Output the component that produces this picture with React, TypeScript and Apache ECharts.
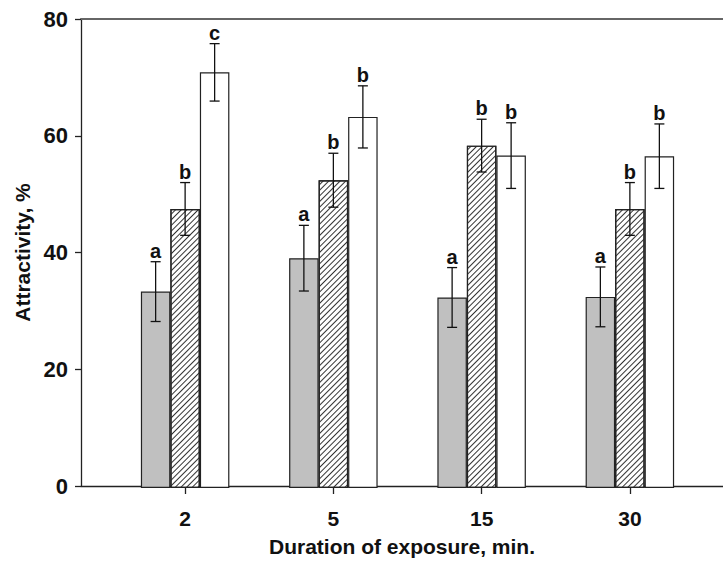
import React, { useEffect, useRef } from "react";
import * as echarts from "echarts";

const categories = ["2", "5", "15", "30"];
const grayValues = [33.5, 39.2, 32.5, 32.6];
const grayErrors = [5.1, 5.6, 5.1, 5.1];
const grayLetters = ["a", "a", "a", "a"];
const hatchValues = [47.6, 52.5, 58.4, 47.6];
const hatchErrors = [4.5, 4.6, 4.5, 4.5];
const hatchLetters = ["b", "b", "b", "b"];
const whiteValues = [70.9, 63.3, 56.7, 56.6];
const whiteErrors = [4.9, 5.3, 5.6, 5.5];
const whiteLetters = ["c", "b", "b", "b"];
const yTicks = { min: 0, max: 80, interval: 20 };
const xTitle = "Duration of exposure, min.";
const yTitle = "Attractivity, %";

const FONT = "Arial, 'Liberation Sans', sans-serif";
const BAR_W = 29.5;

function errSeries(values: number[], errs: number[], letters: string[], offset: number) {
  return {
    type: "custom",
    xAxisIndex: 2,
    yAxisIndex: 1,
    z: 10,
    data: values.map((v, i) => [i, v, errs[i], letters[i]]),
    renderItem: (params: any, api: any) => {
      const idx = api.value(0);
      const v = api.value(1);
      const e = api.value(2);
      const letter = letters[params.dataIndex];
      const top = api.coord([idx, v + e]);
      const bot = api.coord([idx, v - e]);
      const x = top[0] + offset;
      const cap = 5;
      const ls = { stroke: "#111", lineWidth: 1.3 };
      return {
        type: "group",
        children: [
          { type: "line", shape: { x1: x, y1: top[1], x2: x, y2: bot[1] }, style: ls },
          { type: "line", shape: { x1: x - cap, y1: top[1], x2: x + cap, y2: top[1] }, style: ls },
          { type: "line", shape: { x1: x - cap, y1: bot[1], x2: x + cap, y2: bot[1] }, style: ls },
          {
            type: "text",
            style: {
              text: letter,
              x: x,
              y: top[1] - 1,
              textAlign: "center",
              textVerticalAlign: "bottom",
              font: `bold 20px ${FONT}`,
              fill: "#111",
            },
          },
        ],
      };
    },
  };
}

export default function App() {
  const ref = useRef<HTMLDivElement>(null);
  useEffect(() => {
    if (!ref.current) return;
    const chart = echarts.init(ref.current, null, { renderer: "svg" });
    const barBase = {
      type: "bar",
      xAxisIndex: 2,
      yAxisIndex: 1,
      barWidth: BAR_W,
      barGap: "0%",
    };
    chart.setOption({
      animation: false,
      backgroundColor: "#ffffff",
      grid: [
        { left: 81, top: 19, width: 652, bottom: 74 },
        { left: 111, top: 19, width: 593, bottom: 74 },
      ],
      xAxis: [
        {
          gridIndex: 0,
          type: "value",
          min: 0,
          max: 1,
          position: "bottom",
          axisLine: { show: true, lineStyle: { color: "#222", width: 1.3 } },
          axisTick: { show: false },
          axisLabel: { show: false },
          splitLine: { show: false },
          name: xTitle,
          nameLocation: "middle",
          nameGap: 50,
          nameTextStyle: { fontFamily: FONT, fontWeight: "bold", fontSize: 21, color: "#111" },
        },
        {
          gridIndex: 0,
          type: "value",
          min: 0,
          max: 1,
          position: "top",
          axisLine: { show: true, lineStyle: { color: "#666", width: 2 } },
          axisTick: { show: false },
          axisLabel: { show: false },
          splitLine: { show: false },
        },
        {
          gridIndex: 1,
          type: "category",
          data: categories,
          position: "bottom",
          axisLine: { show: false },
          axisTick: { show: true, alignWithLabel: true, length: 6, lineStyle: { color: "#222", width: 1.3 } },
          axisLabel: { fontFamily: FONT, fontWeight: "bold", fontSize: 21, color: "#111", margin: 20 },
          splitLine: { show: false },
        },
      ],
      yAxis: [
        {
          gridIndex: 0,
          type: "value",
          min: yTicks.min,
          max: yTicks.max,
          interval: yTicks.interval,
          axisLine: { show: true, lineStyle: { color: "#222", width: 1.3 } },
          axisTick: { show: true, length: 6, lineStyle: { color: "#222", width: 1.3 } },
          axisLabel: { fontFamily: FONT, fontWeight: "bold", fontSize: 22, color: "#111", margin: 13 },
          splitLine: { show: false },
          name: yTitle,
          nameLocation: "middle",
          nameGap: 45,
          nameTextStyle: { fontFamily: FONT, fontWeight: "bold", fontSize: 21, color: "#111" },
        },
        {
          gridIndex: 1,
          type: "value",
          min: yTicks.min,
          max: yTicks.max,
          interval: yTicks.interval,
          show: false,
        },
      ],
      series: [
        {
          ...barBase,
          name: "gray",
          data: grayValues,
          itemStyle: { color: "#c0c0c0", borderColor: "#222", borderWidth: 1.2 },
        },
        {
          ...barBase,
          name: "hatched",
          data: hatchValues,
          itemStyle: {
            color: "#ffffff",
            borderColor: "#222",
            borderWidth: 1.2,
            decal: {
              symbol: "rect",
              symbolSize: 1,
              color: "#333",
              backgroundColor: "#ffffff",
              dashArrayX: [1, 0],
              dashArrayY: [1, 2.6],
              rotation: -Math.PI / 4,
            },
          },
        },
        {
          ...barBase,
          name: "white",
          data: whiteValues,
          itemStyle: { color: "#ffffff", borderColor: "#222", borderWidth: 1.2 },
        },
        errSeries(grayValues, grayErrors, grayLetters, -BAR_W),
        errSeries(hatchValues, hatchErrors, hatchLetters, 0),
        errSeries(whiteValues, whiteErrors, whiteLetters, BAR_W),
      ],
    });
    return () => chart.dispose();
  }, []);
  return (
    <div
      ref={ref}
      style={{ position: "fixed", left: 0, top: 0, width: 723, height: 562, background: "#fff" }}
    />
  );
}
